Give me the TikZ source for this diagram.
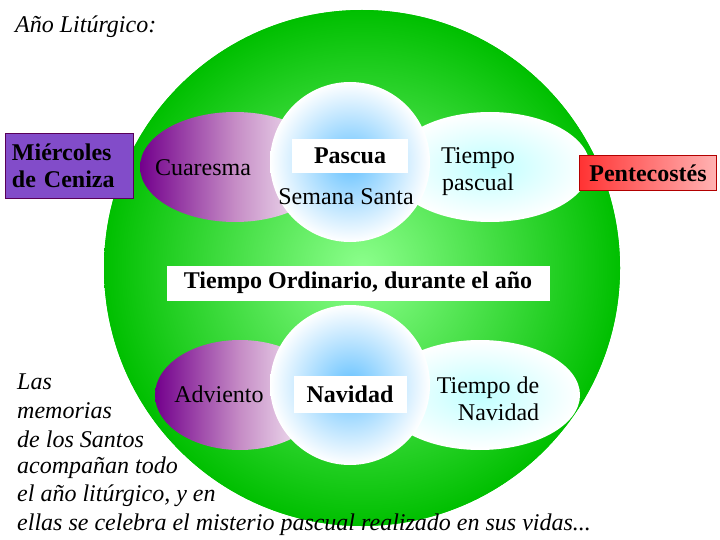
\documentclass[tikz,border=0pt]{standalone}
\usepackage{fontspec}
\setmainfont{Liberation Serif}
\begin{document}
\begin{tikzpicture}[x=1pt,y=-1pt,
  lbl/.style={font=\fontsize{24}{27}\selectfont},
  bl/.style={font=\bfseries\fontsize{24}{27}\selectfont},
  it/.style={font=\itshape\fontsize{24}{27}\selectfont,anchor=west,inner sep=0pt}]
\useasboundingbox (0,0) rectangle (720,540);
\fill[green!80!black] (362,268) circle (258);
\shade[inner color=green!45!white, outer color=green!75!black] (362,268) circle (258);
% top
\shade[left color=violet!90!blue, right color=white, middle color=violet!45] (235,167) ellipse (95 and 55);
\shade[inner color=cyan!25, outer color=white] (490,167) ellipse (100 and 55);
\shade[inner color=cyan!60!blue!60, outer color=white] (350,162) circle (80);
\node[fill=white, minimum width=116, minimum height=34, bl] (pascua) at (350,156) {Pascua};
\node[lbl] (cuaresma) at (203,168) {Cuaresma};
\node[lbl] (ss) at (346,197) {Semana Santa};
\node[lbl,align=center] (tp) at (478,172) {Tiempo\\pascual};
% ordinario
\node[fill=white, minimum width=383, minimum height=35, bl] (ord) at (358,283) {Tiempo Ordinario, durante el año};
% bottom
\shade[left color=violet!90!blue, right color=white, middle color=violet!45] (240,395) ellipse (85 and 55);
\shade[inner color=cyan!25, outer color=white] (480,395) ellipse (100 and 55);
\shade[inner color=cyan!60!blue!60, outer color=white] (350,385) circle (80);
\node[fill=white, minimum width=113, minimum height=37, bl] (nav) at (350,394) {Navidad};
\node[lbl] (adv) at (219,394) {Adviento};
\node[lbl,align=right] (tn) at (488,399) {Tiempo de\\Navidad};
% side boxes
\node[draw=violet!70!black, fill=violet!60!blue!70, minimum width=128, minimum height=65, bl, align=left, text width=114, inner sep=4pt] (mc) at (69,166) {Miércoles\\de Ceniza};
\node[draw=red!70!black, left color=red!80, right color=red!30!white, minimum width=137, minimum height=35, bl, inner sep=2pt] (pen) at (648,173) {Pentecostés};
% text
\node[it] (t0) at (15,27) {Año Litúrgico:};
\node[it] (t1) at (17,382) {Las};
\node[it] (t2) at (17,411) {memorias};
\node[it] (t3) at (17,439) {de los Santos};
\node[it] (t4) at (17,468) {acompañan todo};
\node[it] (t5) at (17,496) {el año litúrgico, y en};
\node[it] (t6) at (17,525) {ellas se celebra el misterio pascual realizado en sus vidas...};
\end{tikzpicture}
\end{document}
